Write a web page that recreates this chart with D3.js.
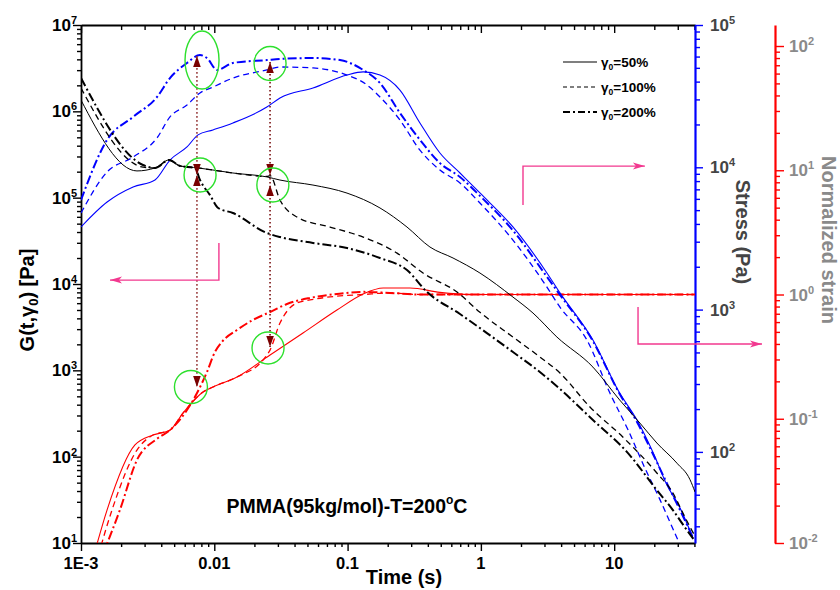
<!DOCTYPE html>
<html>
<head>
<meta charset="utf-8">
<script src="https://cdn.jsdelivr.net/npm/d3@7"></script>
<style>
  body { margin: 0; background: #fff; }
  svg { font-family: "Liberation Sans", Arial, Helvetica, sans-serif; font-weight: bold; }
</style>
</head>
<body>
<svg id="chart" width="840" height="590"></svg>
<script>
// ---- Data: [time (s), value] ----
// Relaxation modulus G(t, γ0) [Pa]
const modulus50 = [[0.001,1.35e6],[0.00263,2.04e5],[0.00359,2.21e5],[0.00457,2.73e5],[0.00553,2.33e5],[0.00755,2.21e5],[0.00977,2.09e5],[0.0138,1.93e5],[0.0248,1.74e5],[0.0311,1.60e5],[0.055,1.40e5],[0.099,1.13e5],[0.175,7.6e4],[0.279,4.57e4],[0.415,2.68e4],[0.618,2.0e4],[0.984,1.34e4],[1.74,7.06e3],[2.46,4.61e3],[3.72,2.43e3],[6.93,1.09e3],[11.0,453],[15.6,245],[20.9,144],[29.6,84],[37.1,54],[40.4,39]];
const modulus100 = [[0.001,1.86e6],[0.00292,2.26e5],[0.00359,2.21e5],[0.00457,2.73e5],[0.00553,2.33e5],[0.00755,2.21e5],[0.0138,1.93e5],[0.0248,1.76e5],[0.0262,1.8e5],[0.0311,9.4e4],[0.0417,5.97e4],[0.0738,4.57e4],[0.131,3.5e4],[0.235,2.28e4],[0.368,1.34e4],[0.662,8.07e3],[0.984,4.7e3],[1.74,2.43e3],[2.77,1.43e3],[3.92,931],[6.58,376],[11.6,169],[20.9,64.7],[27.6,37.9],[32.8,22.2],[37.1,15.3],[40.4,12]];
const modulus200 = [[0.001,2.43e6],[0.00292,2.39e5],[0.00359,2.21e5],[0.00457,2.73e5],[0.00553,2.33e5],[0.00716,2.21e5],[0.00781,1.60e5],[0.00929,1.07e5],[0.0107,7.6e4],[0.0138,6.64e4],[0.0248,3.9e4],[0.0311,3.5e4],[0.055,2.99e4],[0.099,2.61e4],[0.175,2.0e4],[0.279,1.45e4],[0.394,8.1e3],[0.697,4.49e3],[1.11,2.70e3],[1.74,1.63e3],[2.77,957],[3.92,608],[6.93,266],[12.5,113],[20.9,41],[27.6,24],[35.2,14],[40.4,10.5]];

// Stress [Pa]
const stress50 = [[0.001,3.81e3],[0.00157,5.70e3],[0.00246,7.27e3],[0.00359,8.15e3],[0.00465,1.125e4],[0.00624,1.39e4],[0.00755,1.69e4],[0.00977,1.83e4],[0.0138,2.05e4],[0.0248,2.65e4],[0.0311,3.07e4],[0.055,3.61e4],[0.099,4.45e4],[0.131,4.68e4],[0.175,4.45e4],[0.247,3.49e4],[0.349,2.05e4],[0.493,1.26e4],[0.697,9.12e3],[0.984,6.6e3],[1.74,3.81e3],[3.13,1.81e3],[3.92,1.31e3],[6.93,611],[11.0,259],[14.8,168],[19.5,99.8],[24.9,58.5],[31.2,40.4],[39.0,24.8]];
const stress100 = [[0.001,4.77e3],[0.00157,9.27e3],[0.00246,1.18e4],[0.00372,1.61e4],[0.00465,2.26e4],[0.00624,2.74e4],[0.00781,3.33e4],[0.00977,3.66e4],[0.0138,4.24e4],[0.0248,4.83e4],[0.0311,5.07e4],[0.055,4.99e4],[0.099,4.45e4],[0.140,3.79e4],[0.175,3.12e4],[0.247,2.15e4],[0.349,1.32e4],[0.493,9.57e3],[0.697,7.76e3],[0.984,5.61e3],[1.74,3.08e3],[3.13,1.44e3],[3.92,1.04e3],[6.25,611],[9.29,259],[12.7,143],[17.0,77],[22.1,46],[27.2,29.7],[31.2,22.2]];
const stress200 = [[0.001,5.89e3],[0.00157,1.56e4],[0.00246,2.26e4],[0.00372,3.12e4],[0.00465,4.24e4],[0.00624,5.41e4],[0.00781,6.15e4],[0.00881,5.86e4],[0.0105,4.83e4],[0.0138,5.41e4],[0.0248,5.67e4],[0.0311,5.77e4],[0.055,5.86e4],[0.0877,5.67e4],[0.131,4.83e4],[0.175,3.91e4],[0.247,2.41e4],[0.349,1.56e4],[0.493,1.07e4],[0.697,8.55e3],[0.984,6.3e3],[1.74,3.6e3],[3.13,1.7e3],[3.92,1.27e3],[6.93,600],[11.0,255],[14.8,163],[19.5,97],[24.9,60],[31.2,39],[39.0,25]];

// Normalized strain
const strain50 = [[0.00125,0.008],[0.00157,0.0185],[0.00254,0.0615],[0.00347,0.074],[0.00465,0.081],[0.00582,0.111],[0.00823,0.164],[0.00977,0.180],[0.0148,0.217],[0.0262,0.326],[0.0463,0.49],[0.0832,0.75],[0.131,1.01],[0.185,1.127],[0.294,1.127],[0.493,1.04],[0.83,1.0],[40.4,1.0]];
const strain100 = [[0.00135,0.008],[0.00171,0.0185],[0.00263,0.056],[0.00347,0.074],[0.00465,0.081],[0.00582,0.111],[0.00823,0.164],[0.00977,0.180],[0.0148,0.217],[0.024,0.31],[0.0262,0.357],[0.0311,0.59],[0.0357,0.75],[0.0417,0.855],[0.0522,0.904],[0.0832,0.97],[0.131,1.0],[0.208,1.03],[0.35,1.0],[40.4,1.0]];
const strain200 = [[0.00145,0.008],[0.00196,0.0185],[0.00263,0.0466],[0.00372,0.069],[0.00465,0.081],[0.00624,0.1175],[0.00742,0.161],[0.00881,0.238],[0.0101,0.344],[0.0114,0.415],[0.0148,0.518],[0.0195,0.624],[0.0262,0.723],[0.0351,0.839],[0.0522,0.938],[0.0832,1.01],[0.131,1.05],[0.208,1.03],[0.35,1.0],[40.4,1.0]];

// Axis ticks and labels
const timeTicks = [0.001, 0.01, 0.1, 1, 10];
const timeLabels = ["1E-3", "0.01", "0.1", "1", "10"];
const modulusExp = [1, 2, 3, 4, 5, 6, 7];
const stressExp = [2, 3, 4, 5];
const strainExp = [-2, -1, 0, 1, 2];
const legendLabels = ["50%", "100%", "200%"];

// Annotations (data units)
const guideTimes = [0.00741, 0.0262];
const guideArrows = [
  { t: 0.00741, axis: "stress",  v: 6.05e4, dir: "up" },
  { t: 0.00741, axis: "modulus", v: 1.83e5, dir: "down" },
  { t: 0.00741, axis: "modulus", v: 1.83e5, dir: "up" },
  { t: 0.00741, axis: "strain",  v: 0.18,   dir: "down" },
  { t: 0.0262,  axis: "stress",  v: 5.5e4,  dir: "up" },
  { t: 0.0262,  axis: "modulus", v: 1.83e5, dir: "down" },
  { t: 0.0262,  axis: "modulus", v: 1.40e5, dir: "up" },
  { t: 0.0262,  axis: "strain",  v: 0.378,  dir: "down" }
];
const rings = [
  { t: 0.00809, axis: "stress",  v: 5.67e4, rx: 17, ry: 29 },
  { t: 0.0262,  axis: "stress",  v: 5.36e4, rx: 16, ry: 17 },
  { t: 0.00782, axis: "modulus", v: 1.83e5, rx: 16, ry: 17 },
  { t: 0.0275,  axis: "modulus", v: 1.40e5, rx: 16, ry: 17 },
  { t: 0.00668, axis: "strain",  v: 0.18,   rx: 16.5, ry: 16.5 },
  { t: 0.0253,  axis: "strain",  v: 0.371,  rx: 16, ry: 16 }
];
const pointers = [
  { axis: "modulus", pts: [[0.01083, 2.99e4], [0.01083, 1.11e4], [0.00165, 1.11e4]] },
  { axis: "stress",  pts: [[2.07, 5.43e3], [2.07, 1.02e4], [17.0, 1.02e4]] },
  { axis: "strain",  pts: [[15.1, 0.793], [15.1, 0.40], [128.5, 0.40]] }
];

// ---- Scales ----
const x = d3.scaleLog().domain([1e-3, 40.4]).range([81, 695]);
const yG = d3.scaleLog().domain([10, 1e7]).range([543, 25]);
const yS = d3.scaleLog().domain([22.9, 1e5]).range([543, 25]);
const yR = d3.scaleLog().domain([0.01, 147.6]).range([543, 25]);
const yOf = { modulus: yG, stress: yS, strain: yR };

const svg = d3.select("#chart");

svg.append("defs").append("clipPath").attr("id", "plotClip")
  .append("rect").attr("x", 81).attr("y", 25).attr("width", 614).attr("height", 518);

function minorTicks(lo, hi) {
  const out = [];
  for (let e = Math.floor(Math.log10(lo)); e <= Math.ceil(Math.log10(hi)); e++) {
    for (let m = 2; m <= 9; m++) {
      const v = +(m * Math.pow(10, e)).toPrecision(6);
      if (v >= lo && v <= hi) out.push(v);
    }
  }
  return out;
}

function drawAxis(axisFn, scale, majors, minors, transform, color, width, majorLen, minorLen) {
  const g = svg.append("g").attr("transform", transform);
  g.call(axisFn(scale).tickValues(majors).tickSize(majorLen).tickSizeOuter(0).tickFormat(""));
  const g2 = svg.append("g").attr("transform", transform);
  g2.call(axisFn(scale).tickValues(minors).tickSize(minorLen).tickSizeOuter(0).tickFormat(""));
  g2.select(".domain").remove();
  [g, g2].forEach(s => {
    s.selectAll(".tick line").attr("stroke", color).attr("stroke-width", 1.4);
    s.selectAll(".tick text").remove();
  });
  g.select(".domain").attr("stroke", color).attr("stroke-width", width);
}

const xDom = x.domain();
const xMin = minorTicks(xDom[0], xDom[1]);
drawAxis(d3.axisBottom, x, timeTicks, xMin, "translate(0,543)", "#000", 1.8, 8, 4);
drawAxis(d3.axisBottom, x, timeTicks, xMin, "translate(0,25)", "#000", 1.8, 8, 5);
drawAxis(d3.axisLeft, yG, modulusExp.map(e => Math.pow(10, e)), minorTicks(10, 1e7), "translate(81,0)", "#000", 1.8, 8, 4);
drawAxis(d3.axisRight, yS, stressExp.map(e => Math.pow(10, e)), minorTicks(yS.domain()[0], 1e5), "translate(695,0)", "#0000ff", 2.2, 8, 5);
drawAxis(d3.axisRight, yR, strainExp.map(e => Math.pow(10, e)), minorTicks(0.01, yR.domain()[1]), "translate(775,0)", "#ff0000", 2.2, 9, 5);

// ---- Tick labels ----
function powLabel(px, py, exp, anchor, fill) {
  const t = svg.append("text").attr("x", px).attr("y", py)
    .attr("text-anchor", anchor).attr("fill", fill).attr("font-size", 17);
  t.append("tspan").text("10");
  t.append("tspan").attr("dy", -7).attr("font-size", 11).text(exp);
}
modulusExp.forEach(e => powLabel(77, yG(Math.pow(10, e)) + 6, e, "end", "#000"));
stressExp.forEach(e => powLabel(710, yS(Math.pow(10, e)) + 6, e, "start", "#444"));
strainExp.forEach(e => powLabel(789, yR(Math.pow(10, e)) + 6, e, "start", "#8a8a8a"));
timeTicks.forEach((v, i) => {
  svg.append("text").attr("x", x(v)).attr("y", 569).attr("text-anchor", "middle")
    .attr("font-size", 16.5).attr("fill", "#000").text(timeLabels[i]);
});

// ---- Axis titles ----
svg.append("text").attr("x", 404).attr("y", 584).attr("text-anchor", "middle")
  .attr("font-size", 20).text("Time (s)");
const gTitle = svg.append("text").attr("transform", "translate(34,300) rotate(-90)")
  .attr("text-anchor", "middle").attr("font-size", 20);
gTitle.append("tspan").text("G(t,γ");
gTitle.append("tspan").attr("font-size", 13).attr("dy", 4).text("0");
gTitle.append("tspan").attr("dy", -4).text(") [Pa]");
svg.append("text").attr("transform", "translate(736,232) rotate(90)")
  .attr("text-anchor", "middle").attr("font-size", 20).attr("fill", "#444").text("Stress (Pa)");
svg.append("text").attr("transform", "translate(822,240) rotate(90)")
  .attr("text-anchor", "middle").attr("font-size", 20).attr("fill", "#8a8a8a").text("Normalized strain");

// ---- Curves ----
const plot = svg.append("g").attr("clip-path", "url(#plotClip)");
const dashStyles = { solid: null, dashed: "6,4", dashdot: "9,3,2,3" };
const curves = [
  { data: strain50,  axis: "strain",  color: "#ff0000", style: "solid",   w: 1.1 },
  { data: strain100, axis: "strain",  color: "#ff0000", style: "dashed",  w: 1.3 },
  { data: strain200, axis: "strain",  color: "#ff0000", style: "dashdot", w: 2.0 },
  { data: stress50,  axis: "stress",  color: "#0000ff", style: "solid",   w: 1.1 },
  { data: stress100, axis: "stress",  color: "#0000ff", style: "dashed",  w: 1.3 },
  { data: stress200, axis: "stress",  color: "#0000ff", style: "dashdot", w: 2.0 },
  { data: modulus50,  axis: "modulus", color: "#000",   style: "solid",   w: 1.0 },
  { data: modulus100, axis: "modulus", color: "#000",   style: "dashed",  w: 1.3 },
  { data: modulus200, axis: "modulus", color: "#000",   style: "dashdot", w: 2.0 }
];
curves.forEach(c => {
  const yScale = yOf[c.axis];
  const line = d3.line().x(d => x(d[0])).y(d => yScale(d[1])).curve(d3.curveMonotoneX);
  plot.append("path").datum(c.data).attr("d", line)
    .attr("fill", "none").attr("stroke", c.color).attr("stroke-width", c.w)
    .attr("stroke-dasharray", dashStyles[c.style]).attr("stroke-linejoin", "round");
});

// ---- Guide lines, arrowheads and rings ----
const guideTop = [guideArrows[0], guideArrows[4]];
const guideBottom = [guideArrows[3], guideArrows[7]];
guideTimes.forEach((t, i) => {
  svg.append("line")
    .attr("x1", x(t)).attr("x2", x(t))
    .attr("y1", yOf[guideTop[i].axis](guideTop[i].v))
    .attr("y2", yOf[guideBottom[i].axis](guideBottom[i].v))
    .attr("stroke", i === 0 ? "#9a4040" : "#7a1010")
    .attr("stroke-width", 1.6).attr("stroke-dasharray", "1.6,2.4");
});
guideArrows.forEach(a => {
  const px = x(a.t), py = yOf[a.axis](a.v);
  const h = 11, hw = 3.8;
  const s = a.dir === "up" ? 1 : -1;
  svg.append("path")
    .attr("d", `M${px},${py} L${px - hw},${py + s * h} L${px + hw},${py + s * h} Z`)
    .attr("fill", "#7a0000");
});
rings.forEach(r => {
  svg.append("ellipse").attr("cx", x(r.t)).attr("cy", yOf[r.axis](r.v))
    .attr("rx", r.rx).attr("ry", r.ry)
    .attr("fill", "none").attr("stroke", "#2de02d").attr("stroke-width", 1.4);
});

// ---- Pink pointers ----
pointers.forEach(p => {
  const ys = yOf[p.axis];
  const pts = p.pts.map(d => [x(d[0]), ys(d[1])]);
  svg.append("path").attr("d", d3.line()(pts))
    .attr("fill", "none").attr("stroke", "#f2388f").attr("stroke-width", 1.4);
  const [ax, ay] = pts[pts.length - 1];
  const [bx] = pts[pts.length - 2];
  const dir = ax < bx ? 1 : -1;
  svg.append("path")
    .attr("d", `M${ax},${ay} L${ax + dir * 12},${ay - 3.5} L${ax + dir * 9},${ay} L${ax + dir * 12},${ay + 3.5} Z`)
    .attr("fill", "#f2388f");
});

// ---- Legend ----
const legend = svg.append("g").attr("transform", "translate(563,62)");
["solid", "dashed", "dashdot"].forEach((st, i) => {
  const row = legend.append("g").attr("transform", `translate(0,${i * 25})`);
  row.append("line").attr("x1", 0).attr("x2", 34).attr("y1", 0).attr("y2", 0)
    .attr("stroke", "#000").attr("stroke-width", st === "dashdot" ? 1.8 : 1.1)
    .attr("stroke-dasharray", st === "dashed" ? "4,3" : st === "dashdot" ? "7,3,2,3" : null);
  const tx = row.append("text").attr("x", 38).attr("y", 5).attr("font-size", 13.5).attr("fill", "#000");
  tx.append("tspan").text("γ");
  tx.append("tspan").attr("font-size", 8.5).attr("dy", 3).text("0");
  tx.append("tspan").attr("dy", -3).text("=" + legendLabels[i]);
});

// ---- Sample annotation ----
const note = svg.append("text").attr("x", 347).attr("y", 513).attr("text-anchor", "middle")
  .attr("font-size", 19.5).attr("fill", "#000");
note.append("tspan").text("PMMA(95kg/mol)-T=200");
note.append("tspan").attr("font-size", 12).attr("dy", -9).text("o");
note.append("tspan").attr("dy", 9).text("C");
</script>
</body>
</html>
